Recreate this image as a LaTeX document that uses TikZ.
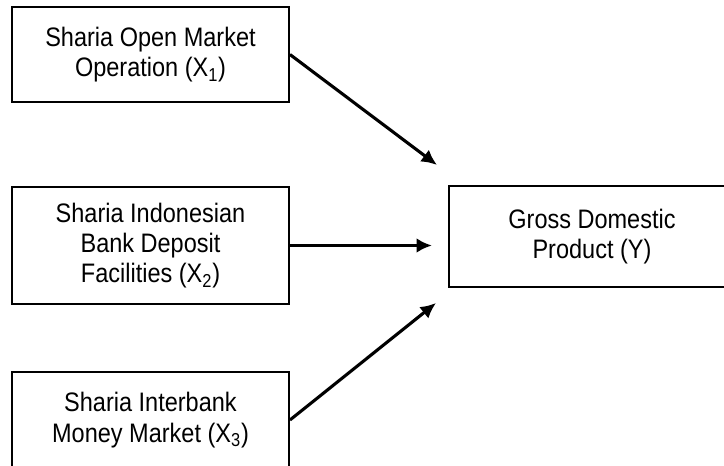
\documentclass[tikz,border=0pt]{standalone}
\usepackage{fontspec}
\setmainfont[FakeStretch=0.88]{Liberation Sans}
\usepackage{tikz}
\usetikzlibrary{arrows.meta,positioning}

\begin{document}
\begin{tikzpicture}
[x=0.025cm,y=-0.025cm,
var/.style={draw=black,line width=1.3pt,align=center,inner sep=0pt,font=\fontsize{19}{21.5}\selectfont},
link/.style={line width=2.2pt,-{Latex[length=11pt,width=10.5pt]}}]
\useasboundingbox (0,0) rectangle (724,466);
\clip (0,0) rectangle (724,466);

\node[var,minimum width=6.925cm,minimum height=2.375cm] (x1) at (150.5,54.5) {Sharia Open Market\\Operation (X\textsubscript{1})};
\node[var,minimum width=6.925cm,minimum height=2.925cm] (x2) at (150.5,245.5) {Sharia Indonesian\\Bank Deposit\\Facilities (X\textsubscript{2})};
\node[var,minimum width=6.925cm,minimum height=2.4cm] (x3) at (150.5,420) {Sharia Interbank\\Money Market (X\textsubscript{3})};
\node[var,minimum width=7.15cm,minimum height=2.525cm] (y) at (592,236.5) {Gross Domestic\\Product (Y)};

\coordinate (t1) at (437,165);
\coordinate (t2) at (432,245.5);
\coordinate (t3) at (436,303);

\draw [link] (x1.east) -- (t1);
\draw [link] (x2.east) -- (t2);
\draw [link] (x3.east) -- (t3);
\end{tikzpicture}
\end{document}
